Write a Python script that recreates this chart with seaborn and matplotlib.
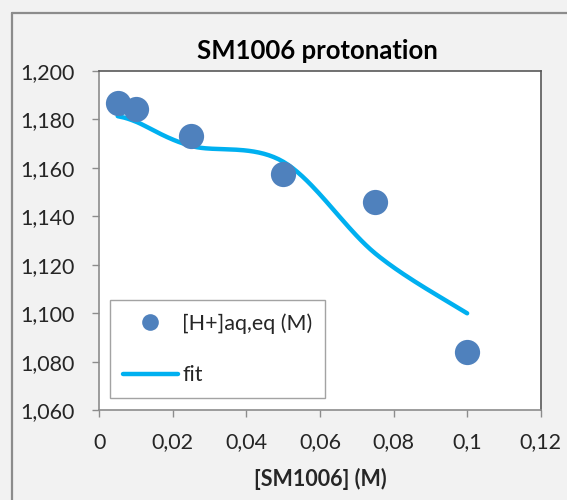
import numpy as np
import pandas as pd
import matplotlib
matplotlib.use("Agg")
import matplotlib.pyplot as plt
import seaborn as sns
from matplotlib.lines import Line2D
from matplotlib.ticker import FuncFormatter

# ---- data ----
conc = [0.005, 0.01, 0.025, 0.05, 0.075, 0.1]
h_eq = [1.1866, 1.1841, 1.1731, 1.1573, 1.1460, 1.0840]
fit = [1.1813, 1.1790, 1.1690, 1.1625, 1.1247, 1.1000]
title = "SM1006 protonation"
xlabel = "[SM1006] (M)"
series_labels = ["[H+]aq,eq (M)", "fit"]

sns.set_theme(style="white")
plt.rcParams["font.family"] = ["Lato", "DejaVu Sans"]

W, H = 567, 500
fig = plt.figure(figsize=(W / 100, H / 100), dpi=100)
fig.patch.set_facecolor("#F2F2F2")
# outer chart-area border (left and top visible)
fig.add_artist(Line2D([12 / W, 12 / W], [0, 1 - 12.5 / H], transform=fig.transFigure,
                      color="#8C8C8C", linewidth=1.6))
fig.add_artist(Line2D([12 / W, 1], [1 - 12.5 / H, 1 - 12.5 / H], transform=fig.transFigure,
                      color="#8C8C8C", linewidth=1.6))

ax_l, ax_r, ax_t, ax_b = 99.3, 540.7, 70.8, 410.3
ax = fig.add_axes([ax_l / W, 1 - ax_b / H, (ax_r - ax_l) / W, (ax_b - ax_t) / H])
ax.set_facecolor("white")

xlim = (0, 0.12)
ylim = (1.06, 1.2)
aspect = (ax_b - ax_t) / (ax_r - ax_l)


def excel_smooth(xs, ys, n=40):
    # Excel-style Bezier smoothing in normalized axis space
    xs = np.asarray(xs, float)
    ys = np.asarray(ys, float)
    sx = (xs - xlim[0]) / (xlim[1] - xlim[0])
    sy = (ys - ylim[0]) / (ylim[1] - ylim[0]) * aspect
    P = np.column_stack([sx, sy])
    out = []
    m = len(P)
    for i in range(m - 1):
        p0 = P[i - 1] if i > 0 else P[i]
        p1 = P[i]
        p2 = P[i + 1]
        p3 = P[i + 2] if i + 2 < m else P[i + 1]
        c1 = p1 + (p2 - p0) / 6
        c2 = p2 - (p3 - p1) / 6
        t = np.linspace(0, 1, n)[:, None]
        seg = ((1 - t) ** 3) * p1 + 3 * ((1 - t) ** 2) * t * c1 + 3 * (1 - t) * t ** 2 * c2 + t ** 3 * p2
        out.append(seg if i == 0 else seg[1:])
    S = np.vstack(out)
    rx = S[:, 0] * (xlim[1] - xlim[0]) + xlim[0]
    ry = S[:, 1] / aspect * (ylim[1] - ylim[0]) + ylim[0]
    return rx, ry


blue = "#4F81BD"
cyan = "#00B0F0"

fx, fy = excel_smooth(conc, fit)
curve = pd.DataFrame({"x": fx, "y": fy})
sns.lineplot(data=curve, x="x", y="y", sort=False, estimator=None,
             color=cyan, linewidth=3.2, ax=ax, legend=False)

pts = pd.DataFrame({"x": conc, "y": h_eq})
sns.scatterplot(data=pts, x="x", y="y", color=blue, s=330, linewidth=0,
                ax=ax, legend=False, zorder=3)

ax.set_xlim(*xlim)
ax.set_ylim(*ylim)
ax.set_xticks(np.arange(0, 0.1201, 0.02))
ax.set_yticks(np.arange(1.06, 1.2001, 0.02))


def xfmt(v, p):
    s = ("%.2f" % v).rstrip("0").rstrip(".")
    return s.replace(".", ",")


ax.xaxis.set_major_formatter(FuncFormatter(xfmt))
ax.yaxis.set_major_formatter(FuncFormatter(lambda v, p: ("%.3f" % v).replace(".", ",")))

for name, sp in ax.spines.items():
    sp.set_visible(True)
    sp.set_linewidth(1.2)
    sp.set_color("#595959" if name in ("top", "right") else "#8C8C8C")
ax.tick_params(axis="both", which="major", direction="out", length=5, width=1,
               color="#8C8C8C", labelsize=15.5, labelcolor="#262626",
               bottom=True, left=True)
ax.tick_params(axis="y", pad=13)
ax.tick_params(axis="x", pad=11)

ax.set_xlabel(xlabel, fontsize=15.5, fontweight="bold", color="#262626", labelpad=11)
ax.set_ylabel("")
fig.text((ax_l + ax_r) / 2 / W - 0.005, 1 - 51 / H, title, ha="center", va="center",
         fontsize=18.5, fontweight="bold", color="black")

handles = [
    Line2D([], [], marker="o", linestyle="none", color=blue, markersize=12, markeredgewidth=0),
    Line2D([], [], color=cyan, linewidth=3.2),
]
leg = ax.legend(handles, series_labels, loc="lower left",
                bbox_to_anchor=((110 - ax_l) / (ax_r - ax_l), (ax_b - 398) / (ax_b - ax_t)),
                frameon=True, fancybox=False, fontsize=15.5, handlelength=2.55,
                handletextpad=0.2, labelspacing=1.45, borderpad=0.6, borderaxespad=0)
leg.get_frame().set_edgecolor("#8C8C8C")
leg.get_frame().set_linewidth(1.0)
for t in leg.get_texts():
    t.set_color("#262626")

fig.savefig("out.png", dpi=100, facecolor=fig.get_facecolor())
